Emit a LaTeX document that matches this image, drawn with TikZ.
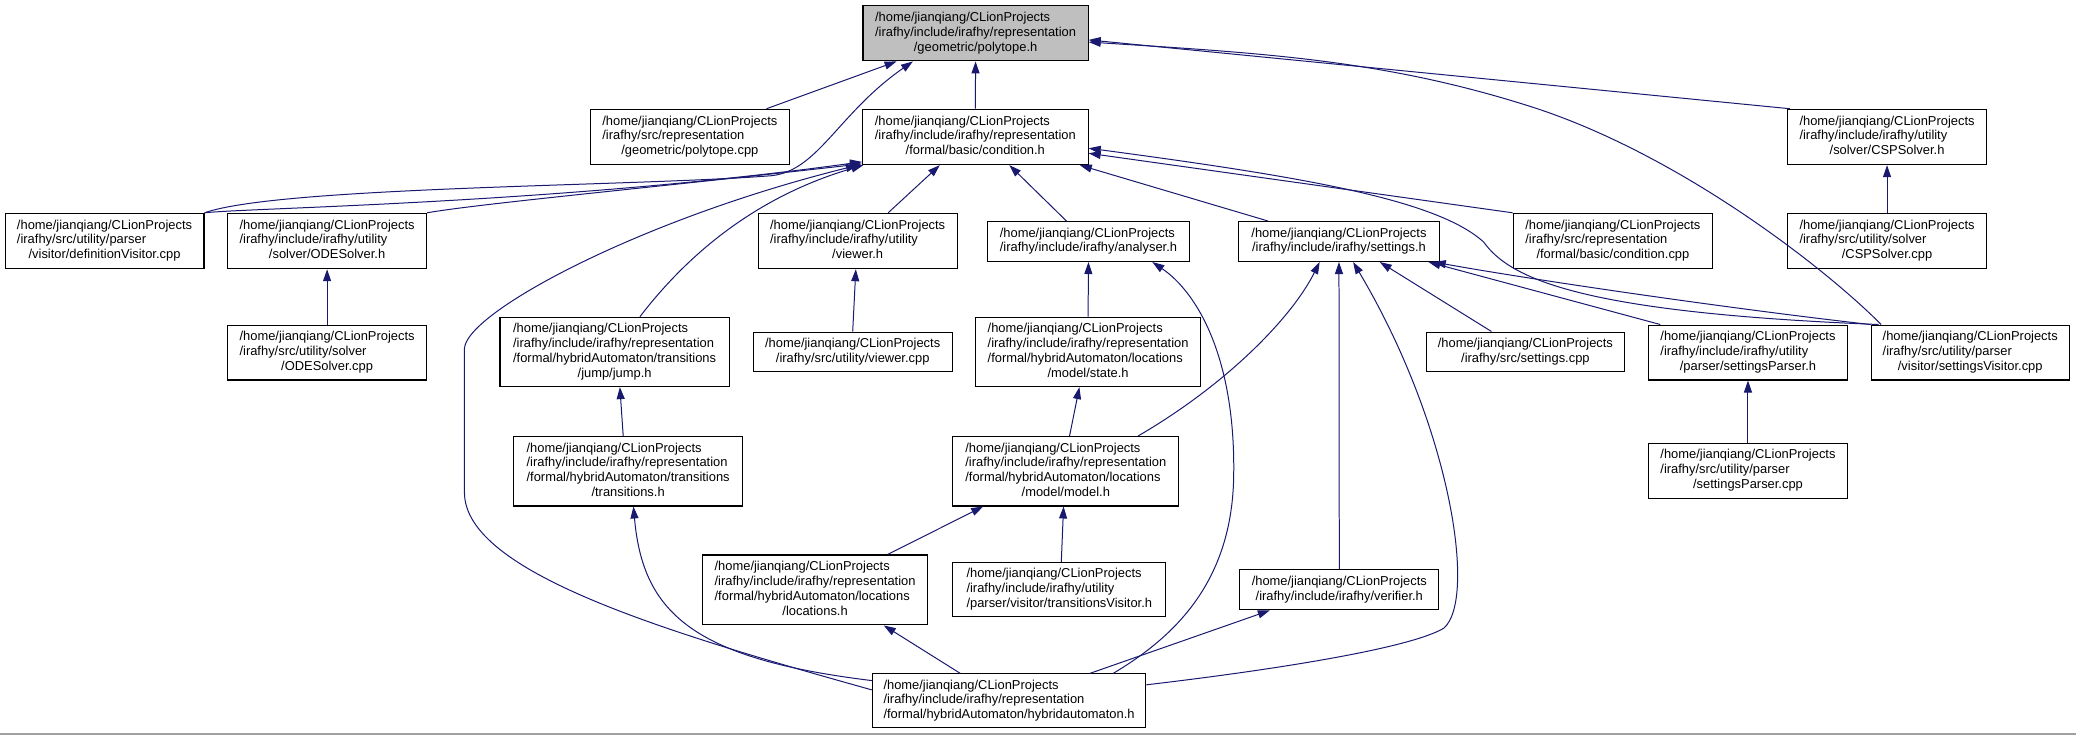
\documentclass[tikz,border=0pt]{standalone}
\usepackage{fontspec}
\setmainfont{Liberation Sans}
\usetikzlibrary{arrows.meta,calc}
\definecolor{mblue}{HTML}{191970}
\definecolor{rootgray}{HTML}{BFBFBF}
\definecolor{sepgray}{HTML}{A0A0A0}
\newcommand{\hm}{/home/jianqiang/CLionProjects}
\newcommand{\rep}{/irafhy/include/irafhy/representation}
\newcommand{\cl}[1]{\multicolumn{1}{@{}c@{}}{#1}}
\newcommand{\lbl}[1]{\begin{tabular}{@{}l@{}}#1\end{tabular}}
\begin{document}
\begin{tikzpicture}[x=1pt,y=-1pt,
  box/.style={draw=black, line width=0.8pt, fill=white, inner sep=0pt,
    font=\fontsize{9.7}{11.1}\selectfont},
  size/.style 2 args={minimum width=#1, minimum height=#2},
  edge/.style={draw=mblue, line width=0.75pt, -{Triangle[length=9pt,width=6pt]}}]
\useasboundingbox (0,0) rectangle (1560,552.3);
\fill[white] (0,0) rectangle (1560,552.3);
% row 0
\node[box,fill=rootgray,size={169.2pt}{41.3pt}] (P) at (733.1,25.1) {\lbl{\hm\\\rep\\\cl{/geometric/polytope.h}}};
% row 1
\node[box,size={149.2pt}{41.6pt}] (PC) at (518.4,102.9) {\lbl{\hm\\/irafhy/src/representation\\\cl{/geometric/polytope.cpp}}};
\node[box,size={169.6pt}{41.6pt}] (C) at (732.9,102.9) {\lbl{\hm\\\rep\\\cl{/formal/basic/condition.h}}};
\node[box,size={150pt}{41.6pt}] (CS) at (1418,102.9) {\lbl{\hm\\/irafhy/include/irafhy/utility\\\cl{/solver/CSPSolver.h}}};
% row 2
\node[box,size={149.5pt}{41.6pt}] (DV) at (78.55,181.1) {\lbl{\hm\\/irafhy/src/utility/parser\\\cl{/visitor/definitionVisitor.cpp}}};
\node[box,size={149.6pt}{41.6pt}] (OS) at (245.8,181.1) {\lbl{\hm\\/irafhy/include/irafhy/utility\\\cl{/solver/ODESolver.h}}};
\node[box,size={149.6pt}{41.6pt}] (VH) at (644.5,181.1) {\lbl{\hm\\/irafhy/include/irafhy/utility\\\cl{/viewer.h}}};
\node[box,size={152.2pt}{30pt}] (AN) at (817.9,181.5) {\lbl{\hm\\\cl{/irafhy/include/irafhy/analyser.h}}};
\node[box,size={150.5pt}{30pt}] (SE) at (1006.15,181.5) {\lbl{\hm\\\cl{/irafhy/include/irafhy/settings.h}}};
\node[box,size={150pt}{41.6pt}] (CC) at (1212,181.1) {\lbl{\hm\\/irafhy/src/representation\\\cl{/formal/basic/condition.cpp}}};
\node[box,size={150pt}{41.6pt}] (CSC) at (1418,181.1) {\lbl{\hm\\/irafhy/src/utility/solver\\\cl{/CSPSolver.cpp}}};
% row 3
\node[box,size={149.6pt}{41.3pt}] (OSC) at (245.8,264.9) {\lbl{\hm\\/irafhy/src/utility/solver\\\cl{/ODESolver.cpp}}};
\node[box,size={172.3pt}{52.1pt}] (J) at (461.85,264.45) {\lbl{\hm\\\rep\\/formal/hybridAutomaton/transitions\\\cl{/jump/jump.h}}};
\node[box,size={149.5pt}{30pt}] (VC) at (640.75,264.5) {\lbl{\hm\\\cl{/irafhy/src/utility/viewer.cpp}}};
\node[box,size={169.3pt}{52.1pt}] (ST) at (817.65,264.45) {\lbl{\hm\\\rep\\/formal/hybridAutomaton/locations\\\cl{/model/state.h}}};
\node[box,size={148.7pt}{30pt}] (SC) at (1146.25,264.5) {\lbl{\hm\\\cl{/irafhy/src/settings.cpp}}};
\node[box,size={149pt}{41.3pt}] (SP) at (1313.5,264.9) {\lbl{\hm\\/irafhy/include/irafhy/utility\\\cl{/parser/settingsParser.h}}};
\node[box,size={149pt}{41.3pt}] (SV) at (1480.5,264.9) {\lbl{\hm\\/irafhy/src/utility/parser\\\cl{/visitor/settingsVisitor.cpp}}};
% row 4
\node[box,size={172pt}{52.2pt}] (T) at (472,354.1) {\lbl{\hm\\\rep\\/formal/hybridAutomaton/transitions\\\cl{/transitions.h}}};
\node[box,size={169.8pt}{52.2pt}] (M) at (800.9,354.1) {\lbl{\hm\\\rep\\/formal/hybridAutomaton/locations\\\cl{/model/model.h}}};
\node[box,size={149pt}{41.5pt}] (SPC) at (1313.5,353.75) {\lbl{\hm\\/irafhy/src/utility/parser\\\cl{/settingsParser.cpp}}};
% row 5
\node[box,size={169pt}{52.5pt}] (L) at (612.5,443.3) {\lbl{\hm\\\rep\\/formal/hybridAutomaton/locations\\\cl{/locations.h}}};
\node[box,size={160pt}{40.6pt}] (TV) at (796,443) {\lbl{\hm\\/irafhy/include/irafhy/utility\\\cl{/parser/visitor/transitionsVisitor.h}}};
\node[box,size={149.6pt}{30pt}] (VF) at (1006.4,443.25) {\lbl{\hm\\\cl{/irafhy/include/irafhy/verifier.h}}};
% row 6
\node[box,size={205.5pt}{40.6pt}] (H) at (758.25,526.7) {\lbl{\hm\\\rep\\\cl{/formal/hybridAutomaton/hybridautomaton.h}}};
% edges into polytope.h
\draw[edge] ($(PC.north)+(57.6,0)$) -- ($(P.south)+(-59.4,0)$);
\draw[edge] (DV.north east) .. controls (210,140) and (480,140) .. (580,132) .. controls (615,128) and (630,85) .. ($(P.south)+(-47.1,0)$);
\draw[edge] (C.north) -- (P.south);
\draw[edge] ($(CS.north)+(-73,0)$) -- ($(P.east)+(0,4.9)$);
\draw[edge] ($(SV.north west)+(8,0)$) .. controls (1370,200) and (1260,115) .. (1150,80) .. controls (1040,45) and (950,40) .. ($(P.east)+(0,6.5)$);
% edges into condition.h
\draw[edge] (DV.north east) .. controls (190,156) and (420,153) .. ($(C.south west)+(0,-2.5)$);
\draw[edge] (OS.north east) .. controls (360,153) and (500,140) .. ($(C.south west)+(0,-1)$);
\draw[edge] ($(H.west)+(0,-8.3)$) .. controls (500,475) and (349,430) .. (349,370) -- (349,262) .. controls (350,235) and (480,165) .. ($(C.south west)+(-3,0)$);
\draw[edge] ($(J.north)+(19,0)$) .. controls (510,200) and (560,150) .. ($(C.south west)+(1,0)$);
\draw[edge] ($(VH.north)+(22.9,0)$) -- ($(C.south)+(-26.7,0)$);
\draw[edge] ($(AN.north)+(-16.5,0)$) -- ($(C.south)+(25.6,0)$);
\draw[edge] ($(SE.north)+(-53.25,0)$) -- ($(C.south)+(78.5,0)$);
\draw[edge] (CC.north west) -- ($(C.east)+(0,12.3)$);
\draw[edge] ($(SV.north west)+(6,0)$) .. controls (1190,235) and (1135,210) .. (1115,182) .. controls (1080,150) and (980,133) .. ($(C.east)+(0,8.5)$);
% other edges
\draw[edge] (CSC.north) -- (CS.south);
\draw[edge] (OSC.north) -- (OS.south);
\draw[edge] (VC.north) -- ($(VH.south)+(-1.4,0)$);
\draw[edge] (ST.north) -- (AN.south);
\draw[edge] ($(H.north)+(78.25,0)$) .. controls (880,480) and (925,440) .. (927,360) .. controls (929,270) and (900,220) .. ($(AN.south)+(48,0)$);
\draw[edge] ($(M.north)+(54.3,0)$) .. controls (920,290) and (970,240) .. ($(SE.south)+(-14.5,0)$);
\draw[edge] (VF.north) -- (SE.south);
\draw[edge] ($(H.east)+(0,-12.1)$) .. controls (960,503) and (1060,487) .. (1085,472) .. controls (1110,450) and (1090,320) .. ($(SE.south)+(10.65,0)$);
\draw[edge] ($(SC.north)+(-25.5,0)$) -- ($(SE.south)+(30.65,0)$);
\draw[edge] ($(SP.north west)+(9,0)$) -- ($(SE.south east)+(-8.4,0)$);
\draw[edge] (SV.north west) .. controls (1300,232) and (1150,210) .. ($(SE.south east)+(-4.4,0)$);
\draw[edge] ($(T.north)+(-3.7,0)$) -- ($(J.south)+(3.95,0)$);
\draw[edge] ($(M.north)+(2.8,0)$) -- ($(ST.south)+(-6.55,0)$);
\draw[edge] (SPC.north) -- (SP.south);
\draw[edge] ($(H.west)+(0,-15.3)$) .. controls (520,495) and (483,460) .. ($(T.south)+(4,0)$);
\draw[edge] ($(L.north)+(54.5,0)$) -- ($(M.south)+(-62.1,0)$);
\draw[edge] ($(TV.north)+(1.5,0)$) -- ($(M.south)+(-1.7,0)$);
\draw[edge] ($(H.north)+(-36.65,0)$) -- ($(L.south)+(51.6,0)$);
\draw[edge] ($(H.north)+(60.75,0)$) -- ($(VF.south)+(-52.2,0)$);
% bottom rule
\draw[sepgray, line width=1.5pt] (0,551.5) -- (1560,551.5);
\end{tikzpicture}
\end{document}
